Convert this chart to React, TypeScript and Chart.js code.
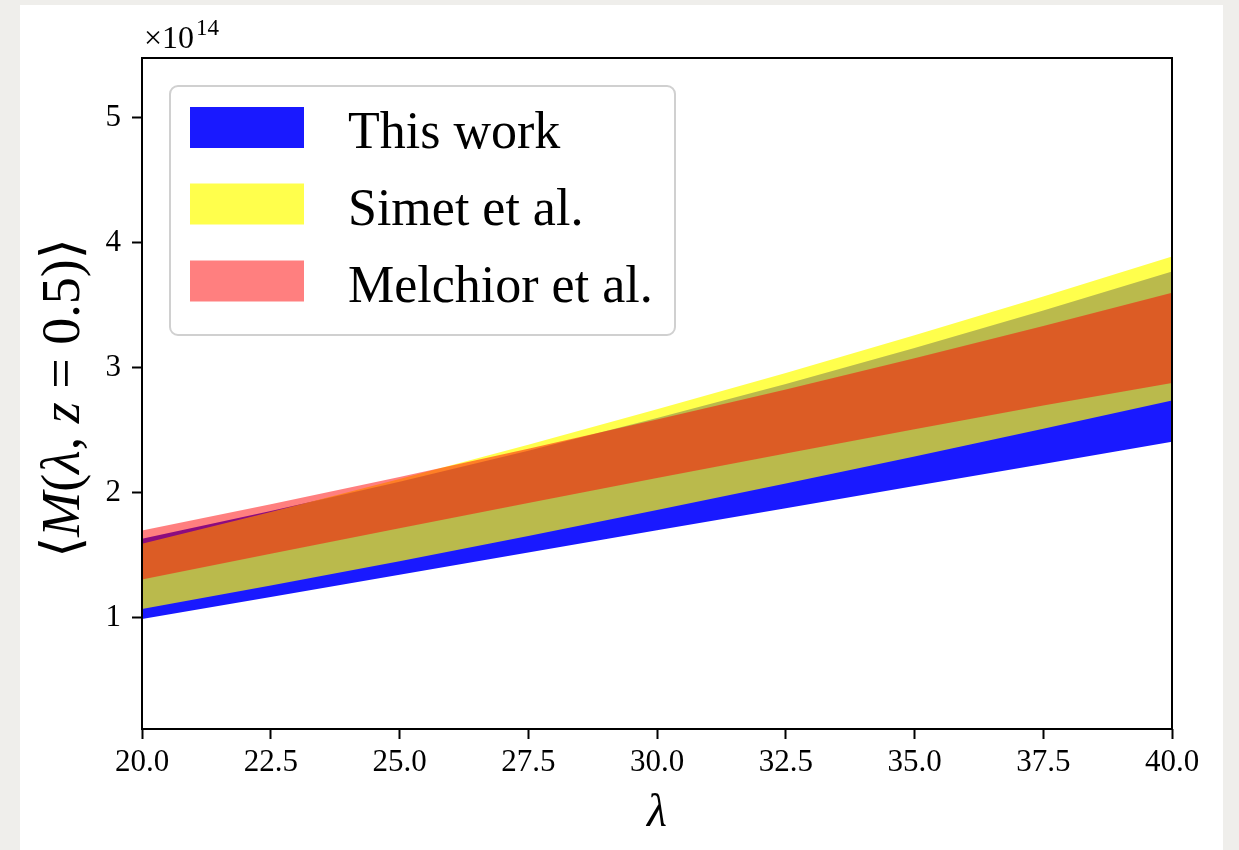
import React, { useEffect, useRef } from "react";
import { Chart, registerables } from "chart.js";

Chart.register(...registerables);

// Richness grid and the mass bands, in units of 1e14
const lambdaGrid = [20, 22.5, 25, 27.5, 30, 32.5, 35, 37.5, 40];
const thisWorkLower = [0.99, 1.167, 1.345, 1.522, 1.7, 1.877, 2.054, 2.231, 2.408];
const thisWorkUpper = [1.632, 1.854, 2.089, 2.337, 2.598, 2.872, 3.159, 3.459, 3.772];
const simetLower = [1.07, 1.258, 1.453, 1.655, 1.862, 2.074, 2.29, 2.512, 2.738];
const simetUpper = [1.592, 1.847, 2.111, 2.385, 2.668, 2.96, 3.261, 3.572, 3.892];
const melchiorLower = [1.306, 1.512, 1.716, 1.918, 2.118, 2.315, 2.509, 2.698, 2.88];
const melchiorUpper = [1.698, 1.908, 2.126, 2.352, 2.586, 2.828, 3.078, 3.336, 3.602];

const xTickValues = [20, 22.5, 25, 27.5, 30, 32.5, 35, 37.5, 40];
const yTickValues = [1, 2, 3, 4, 5];
const legendLabels = ["This work", "Simet et al.", "Melchior et al."];
const bandColors = ["rgba(0,0,255,0.9)", "rgba(255,255,0,0.7)", "rgba(255,0,0,0.5)"];

const SERIF = '"Liberation Serif", "DejaVu Serif", serif';

const pts = (ys: number[]) => lambdaGrid.map((x, i) => ({ x, y: ys[i] }));

function drawSegments(
  ctx: CanvasRenderingContext2D,
  segs: [string, boolean][],
  size: number,
  cx: number,
  baseline: number
) {
  const widths: number[] = [];
  let total = 0;
  for (const [t, it] of segs) {
    ctx.font = `${it ? "italic " : ""}${size}px ${SERIF}`;
    const w = ctx.measureText(t).width;
    widths.push(w);
    total += w;
  }
  let x = cx - total / 2;
  ctx.textAlign = "left";
  ctx.textBaseline = "alphabetic";
  segs.forEach(([t, it], i) => {
    ctx.font = `${it ? "italic " : ""}${size}px ${SERIF}`;
    ctx.fillText(t, x, baseline);
    x += widths[i];
  });
}

const decorations = {
  id: "decorations",
  afterDatasetsDraw(chart: any) {
    const { ctx, chartArea: a } = chart;
    ctx.save();
    ctx.strokeStyle = "#000";
    ctx.lineWidth = 2;
    ctx.strokeRect(a.left, a.top, a.right - a.left, a.bottom - a.top);
    ctx.restore();
  },
  afterDraw(chart: any) {
    const { ctx } = chart;
    ctx.save();
    ctx.fillStyle = "#000";

    // scale offset text
    ctx.textAlign = "left";
    ctx.textBaseline = "alphabetic";
    ctx.font = `32px ${SERIF}`;
    ctx.fillText("\u00d710", 124, 43);
    const w = ctx.measureText("\u00d710").width;
    ctx.font = `23px ${SERIF}`;
    ctx.fillText("14", 124 + w + 2, 30);

    // x axis title
    drawSegments(ctx, [["\u03bb", true]], 46, 637, 821);

    // y axis title
    ctx.save();
    ctx.translate(59, 393);
    ctx.rotate(-Math.PI / 2);
    drawSegments(
      ctx,
      [
        ["\u27e8", false],
        ["M", true],
        ["(", false],
        ["\u03bb", true],
        [", ", false],
        ["z", true],
        [" = 0.5)", false],
        ["\u27e9", false],
      ],
      54,
      0,
      0
    );
    ctx.restore();

    // legend
    ctx.beginPath();
    ctx.roundRect(150, 81, 505, 249, 8);
    ctx.fillStyle = "rgba(255,255,255,0.8)";
    ctx.fill();
    ctx.strokeStyle = "#d0d0d0";
    ctx.lineWidth = 2;
    ctx.stroke();
    const baselines = [143, 219.5, 296.5];
    legendLabels.forEach((label, i) => {
      ctx.fillStyle = bandColors[i];
      ctx.fillRect(170, baselines[i] - 41, 114, 41);
      ctx.fillStyle = "#000";
      ctx.font = `52px ${SERIF}`;
      ctx.textAlign = "left";
      ctx.textBaseline = "alphabetic";
      ctx.fillText(label, 328, baselines[i]);
    });
    ctx.restore();
  },
};

export default function App() {
  const canvasRef = useRef<HTMLCanvasElement>(null);

  useEffect(() => {
    const canvas = canvasRef.current;
    if (!canvas) return;

    const band = (lower: number[], upper: number[], color: string, order: number) => [
      {
        data: pts(lower),
        borderWidth: 0,
        pointRadius: 0,
        fill: false,
        order,
      },
      {
        data: pts(upper),
        borderWidth: 0,
        pointRadius: 0,
        backgroundColor: color,
        fill: "-1",
        order,
      },
    ];

    const tickFont = { family: SERIF, size: 31 };

    const chart = new Chart(canvas, {
      type: "line",
      data: {
        datasets: [
          ...band(thisWorkLower, thisWorkUpper, bandColors[0], 3),
          ...band(simetLower, simetUpper, bandColors[1], 2),
          ...band(melchiorLower, melchiorUpper, bandColors[2], 1),
        ] as any,
      },
      options: {
        responsive: false,
        animation: false,
        layout: { padding: { left: 0, right: 51, top: 53, bottom: 0 } },
        elements: { line: { tension: 0 } },
        plugins: {
          legend: { display: false },
          tooltip: { enabled: false },
          filler: { drawTime: "beforeDatasetsDraw" },
        },
        scales: {
          x: {
            type: "linear",
            min: 20,
            max: 40,
            afterBuildTicks: (s: any) => {
              s.ticks = xTickValues.map((v) => ({ value: v }));
            },
            afterFit: (s: any) => {
              s.height = 121;
            },
            ticks: {
              callback: (v: any) => Number(v).toFixed(1),
              font: tickFont,
              color: "#000",
              padding: 5,
              maxRotation: 0,
              autoSkip: false,
            },
            grid: {
              drawOnChartArea: false,
              drawTicks: true,
              tickLength: 10,
              tickWidth: 2,
              tickColor: "#000",
              color: "#000",
            },
            border: { display: false },
          },
          y: {
            type: "linear",
            min: 0.11,
            max: 5.48,
            afterBuildTicks: (s: any) => {
              s.ticks = yTickValues.map((v) => ({ value: v }));
            },
            afterFit: (s: any) => {
              s.width = 122;
            },
            ticks: {
              callback: (v: any) => String(v),
              font: tickFont,
              color: "#000",
              padding: 11,
              autoSkip: false,
            },
            grid: {
              drawOnChartArea: false,
              drawTicks: true,
              tickLength: 10,
              tickWidth: 2,
              tickColor: "#000",
              color: "#000",
            },
            border: { display: false },
          },
        },
      } as any,
      plugins: [decorations],
    });

    return () => chart.destroy();
  }, []);

  return (
    <div style={{ position: "fixed", inset: 0, background: "#efeeeb" }}>
      <div
        style={{
          position: "absolute",
          left: 20,
          top: 5,
          width: 1203,
          height: 845,
          background: "#ffffff",
        }}
      >
        <canvas
          ref={canvasRef}
          width={1203}
          height={845}
          style={{ width: 1203, height: 845, display: "block" }}
        />
      </div>
    </div>
  );
}
